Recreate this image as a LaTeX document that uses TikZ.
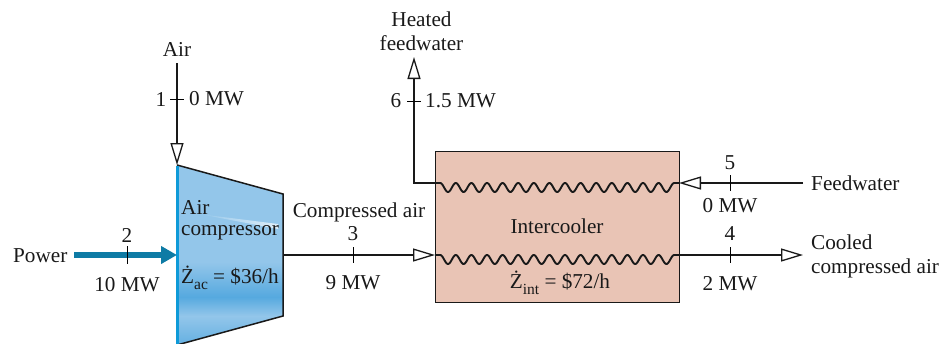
\documentclass[tikz,border=0pt]{standalone}
\usepackage{fontspec}
\setmainfont{Liberation Serif}
\usetikzlibrary{arrows.meta,calc}
\definecolor{bluelight}{HTML}{93C6EA}
\definecolor{bluedark}{HTML}{56A9DF}
\definecolor{blueedge}{HTML}{0E9AD8}
\definecolor{teal}{HTML}{0E7BA5}
\definecolor{salmon}{HTML}{E9C4B5}
\newcommand{\subtxt}[1]{\raisebox{-0.28em}{\fontsize{15.5}{15.5}\selectfont #1}}
\tikzset{
  every node/.style={font=\fontsize{21.2}{24}\selectfont, inner sep=0pt, text=black!90},
  flow/.style={line width=1.9pt, draw=black!90, -{Triangle[open,fill=white,length=22pt,width=13pt,line width=1.3pt]}},
  power/.style={line width=6.5pt, draw=teal, -{Triangle[length=16pt,width=17pt,fill=teal]}},
  tick/.style={line width=1pt, draw=black},
  lbl/.style={align=center, anchor=center},
  lft/.style={align=left, anchor=west},
  coil/.style={line width=1.9pt, draw=black!90, line join=round},
}
\begin{document}
\begin{tikzpicture}[x=1pt,y=-1pt]
\useasboundingbox (0,0) rectangle (941,343);
% compressor body
\coordinate (cTL) at (177,165);
\coordinate (cTR) at (283,194);
\coordinate (cBR) at (283,316);
\coordinate (cBL) at (177,345);
\coordinate (cIn) at (177,165);
\coordinate (cPow) at (177,255);
\coordinate (cOut) at (283,255);
\begin{scope}
\clip (cTL) -- (cTR) -- (cBR) -- (cBL) -- cycle;
\fill[bluelight] (170,160) rectangle (290,262);
\shade[top color=bluelight,bottom color=bluedark] (170,262) rectangle (290,297);
\shade[top color=bluedark,bottom color=bluelight] (170,297) rectangle (290,316);
\shade[top color=bluelight,bottom color=bluedark!80!bluelight] (170,316) rectangle (290,346);
\shade[left color=bluelight,right color=white!70!bluelight] (199,214) -- (278,224) -- (278,229) -- cycle;
\end{scope}
\draw[line width=1.5pt,black!90] (cTL) -- (cTR) -- (cBR) -- (cBL);
\draw[line width=2.6pt,blueedge] (177.5,166) -- (177.5,345);
% intercooler
\node[draw=black!90,line width=1.3pt,fill=salmon,minimum width=244pt,minimum height=151pt,anchor=north west] (ic) at (435,151) {};
\coordinate (icTL) at (435,183);
\coordinate (icTR) at (679,183);
\coordinate (icBL) at (435,255);
\coordinate (icBR) at (679,255);
\draw[coil] (icTL) -- (440.2,183) -- plot[domain=0:15,samples=300,smooth] ({440.2+15.6*\x},{187.5-4.5*cos(360*\x)}) -- (icTR);
\draw[coil] (icBL) -- (440.2,255) -- plot[domain=0:15,samples=300,smooth] ({440.2+15.6*\x},{259.5-4.5*cos(360*\x)}) -- (icBR);
% free ends
\coordinate (airS) at (177,63);
\coordinate (powS) at (74,255);
\coordinate (heatE) at (414,57);
\coordinate (heatC) at (414,183);
\coordinate (feedS) at (803,183);
\coordinate (coolE) at (803,255);
% connectors
\draw[flow] (airS) -- (cIn);
\draw[power] (powS) -- (cPow);
\draw[flow] (cOut) -- (icBL);
\draw[flow] (icTL) -- (heatC) -- (heatE);
\draw[flow] (feedS) -- (icTR);
\draw[flow] (icBR) -- (coolE);
% ticks
\coordinate (t1) at (177,99);
\coordinate (t6) at (414,101);
\coordinate (t2) at (127,255);
\coordinate (t3) at (353,255);
\coordinate (t4) at (730,255);
\coordinate (t5) at (730,183);
\draw[tick] ($(t1)+(-7,0)$) -- ($(t1)+(7,0)$);
\draw[tick] ($(t6)+(-7,0)$) -- ($(t6)+(7,0)$);
\draw[tick] ($(t2)+(0,-9)$) -- ($(t2)+(0,9)$);
\draw[tick] ($(t3)+(0,-8)$) -- ($(t3)+(0,8)$);
\draw[tick] ($(t4)+(0,-8)$) -- ($(t4)+(0,8)$);
\draw[tick] ($(t5)+(0,-8)$) -- ($(t5)+(0,8)$);
% labels
\node[lbl] (lAir) at (177,49) {Air};
\node[lbl] (l1) at (161,99) {1};
\node[lft] (l1v) at (189,99) {0 MW};
\node[lbl] (lHeat) at (421.5,31) {Heated\\feedwater};
\node[lbl] (l6) at (396,101) {6};
\node[lft] (l6v) at (425,101) {1.5 MW};
\node[lft] (lPow) at (13,256) {Power};
\node[lbl] (l2) at (127,235) {2};
\node[lbl] (l2v) at (127,285) {10 MW};
\node[lft] (lComp) at (181,207) {Air};
\node[lft] (lComp2) at (181,233) {compressor};
\node[lft] (lZac) at (181,278) {\.{Z}\subtxt{ac} = \$36/h};
\node[lbl] (lCA) at (359,212) {Compressed air};
\node[lbl] (l3) at (353,234) {3};
\node[lbl] (l3v) at (353,283) {9 MW};
\node[lbl] (lIc) at (557,226) {Intercooler};
\node[lbl] (lZint) at (560,283) {\.{Z}\subtxt{int} = \$72/h};
\node[lbl] (l5) at (730,163) {5};
\node[lbl] (l5v) at (730,206) {0 MW};
\node[lft] (lFeed) at (811,183) {Feedwater};
\node[lbl] (l4) at (730,234) {4};
\node[lbl] (l4v) at (730,284) {2 MW};
\node[lft] (lCool) at (811,256) {Cooled\\compressed air};
\end{tikzpicture}
\end{document}
